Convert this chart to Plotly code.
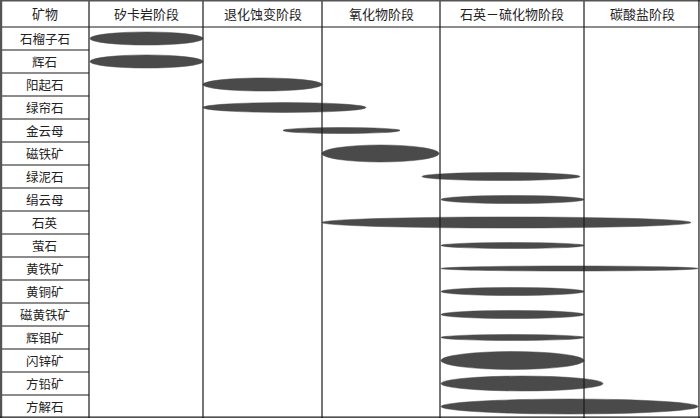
import plotly.graph_objects as go

# 阶段与矿物
stages = ['矽卡岩阶段', '退化蚀变阶段', '氧化物阶段', '石英－硫化物阶段', '碳酸盐阶段']
stage_edges = [0, 114, 233, 351, 495, 611]   # 相对时间轴上的阶段分界

minerals = ['石榴子石', '辉石', '阳起石', '绿帘石', '金云母', '磁铁矿', '绿泥石', '绢云母',
            '石英', '萤石', '黄铁矿', '黄铜矿', '磁黄铁矿', '辉钼矿', '闪锌矿', '方铅矿', '方解石']
start = [1, 1, 114, 114, 194, 233, 333, 352, 233, 352, 352, 352, 352, 352, 352, 352, 352]
end = [114, 114, 233, 277, 311, 350, 491, 495, 602, 495, 609, 495, 495, 495, 495, 514, 609]
# 相对含量 (椭圆厚度, 以行高为单位)
amount = [0.57, 0.57, 0.57, 0.43, 0.26, 0.74, 0.35, 0.35, 0.48, 0.26, 0.22,
          0.35, 0.35, 0.26, 0.78, 0.65, 0.65]

label_w = 89
header_h = 27 / 23
n = len(minerals)
font = 'Noto Sans CJK SC'
line_col = '#1a1a1a'

fig = go.Figure()
# 看不见的点, 让坐标轴生效
fig.add_trace(go.Scatter(x=[-label_w, stage_edges[-1]], y=[-header_h, n],
                         mode='markers', marker=dict(opacity=0), hoverinfo='skip',
                         showlegend=False))

shapes = []
# 椭圆
for i in range(n):
    shapes.append(dict(type='circle', xref='x', yref='y',
                       x0=start[i], x1=end[i],
                       y0=i + 0.5 - amount[i] / 2, y1=i + 0.5 + amount[i] / 2,
                       fillcolor='#4a4a4a', line=dict(color='#4a4a4a', width=0.5),
                       layer='below'))

# 竖线
for e in stage_edges[:-1]:
    shapes.append(dict(type='line', xref='x', yref='y', x0=e, x1=e, y0=-header_h, y1=n,
                       line=dict(color=line_col, width=1.2)))
# 表头底线
shapes.append(dict(type='line', xref='x', yref='y', x0=-label_w, x1=stage_edges[-1], y0=0, y1=0,
                   line=dict(color=line_col, width=1.2)))
# 矿物列横线
for i in range(1, n):
    shapes.append(dict(type='line', xref='x', yref='y', x0=-label_w, x1=0, y0=i, y1=i,
                       line=dict(color=line_col, width=1.2)))
# 外框
shapes.append(dict(type='line', xref='paper', yref='paper', x0=0.001, x1=0.001, y0=0, y1=1,
                   line=dict(color='#555555', width=3)))
shapes.append(dict(type='line', xref='paper', yref='paper', x0=0, x1=1, y0=0.999, y1=0.999,
                   line=dict(color='#555555', width=2)))
shapes.append(dict(type='line', xref='paper', yref='paper', x0=0.9985, x1=0.9985, y0=0, y1=1,
                   line=dict(color=line_col, width=1.2)))
shapes.append(dict(type='line', xref='paper', yref='paper', x0=0, x1=1, y0=0.002, y1=0.002,
                   line=dict(color=line_col, width=1.2)))

annotations = [dict(x=-label_w / 2, y=-header_h / 2, text='矿物', showarrow=False,
                    xref='x', yref='y', font=dict(family=font, size=13, color='#222'))]
for j, s in enumerate(stages):
    annotations.append(dict(x=(stage_edges[j] + stage_edges[j + 1]) / 2, y=-header_h / 2,
                            text=s, showarrow=False, xref='x', yref='y',
                            font=dict(family=font, size=13, color='#222')))
for i, m in enumerate(minerals):
    annotations.append(dict(x=-label_w / 2, y=i + 0.5, text=m, showarrow=False,
                            xref='x', yref='y', font=dict(family=font, size=12.5, color='#222')))

fig.update_layout(
    width=700, height=418,
    margin=dict(l=0, r=0, t=0, b=0),
    paper_bgcolor='white', plot_bgcolor='white',
    xaxis=dict(range=[-label_w, stage_edges[-1]], visible=False, fixedrange=True),
    yaxis=dict(range=[n, -header_h], visible=False, fixedrange=True),
    shapes=shapes, annotations=annotations,
    showlegend=False,
)

# 去掉页面默认边距
fig.write_html("out.html", config={'displayModeBar': False},
               post_script="document.body.style.margin='0';document.body.style.overflow='hidden';")
